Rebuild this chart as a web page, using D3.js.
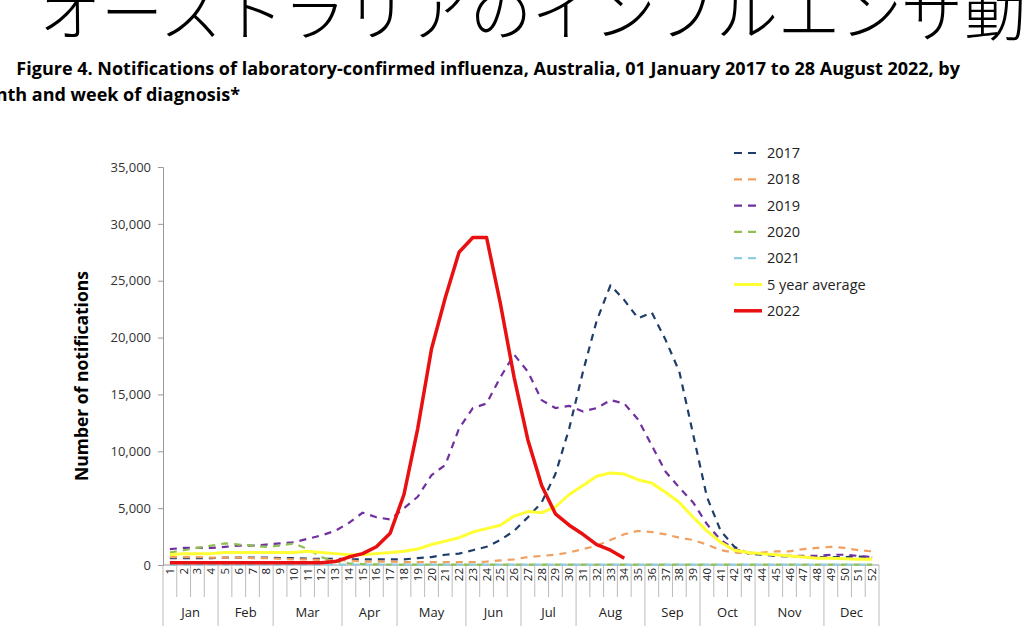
<!DOCTYPE html>
<html>
<head>
<meta charset="utf-8">
<script src="https://cdn.jsdelivr.net/npm/d3@7"></script>
<style>
  body { margin: 0; background: #fff; }
  svg { font-family: "Liberation Sans", "Open Sans", sans-serif; }
</style>
</head>
<body>
<svg id="chart" width="1024" height="635"></svg>
<script>
// Datos
var weeks = d3.range(1, 53);
var months = ["Jan", "Feb", "Mar", "Apr", "May", "Jun", "Jul", "Aug", "Sep", "Oct", "Nov", "Dec"];
var monthWeeks = [4, 4, 5, 4, 5, 4, 4, 5, 4, 4, 5, 4];
var yTicks = [0, 5000, 10000, 15000, 20000, 25000, 30000, 35000];

var s2017 = [600, 600, 600, 600, 650, 650, 650, 650, 600, 600, 550, 550, 550, 500, 500, 500, 500, 500, 600, 700, 900, 1000,
  1300, 1600, 2200, 3000, 4200, 5500, 8000, 12000, 17000, 21500, 24600, 23300, 21700, 22200, 19800, 17000, 11500, 6000,
  3000, 1600, 1000, 900, 800, 750, 700, 700, 700, 700, 750, 700];
var s2018 = [700, 700, 700, 650, 650, 650, 600, 600, 550, 500, 500, 450, 400, 400, 300, 300, 300, 250, 250, 250, 250, 250,
  250, 300, 400, 500, 700, 800, 900, 1100, 1400, 1700, 2200, 2700, 3000, 2900, 2700, 2400, 2200, 1800, 1300, 1100, 1000,
  1100, 1200, 1200, 1400, 1500, 1600, 1500, 1300, 1200];
var s2019 = [1400, 1500, 1500, 1500, 1600, 1700, 1700, 1800, 1900, 2000, 2300, 2600, 3000, 3700, 4600, 4200, 4000, 5000,
  6000, 7900, 8800, 12000, 13800, 14200, 16500, 18500, 17000, 14500, 13800, 14000, 13500, 13800, 14500, 14200, 12800,
  10500, 8200, 6800, 5500, 3600, 2200, 1400, 1100, 1000, 900, 800, 800, 800, 900, 900, 800, 700];
var s2020 = [1100, 1300, 1500, 1700, 1900, 1800, 1700, 1600, 1700, 1900, 1400, 700, 300, 150, 80, 50, 40, 30, 30, 30, 30,
  30, 30, 30, 30, 30, 30, 30, 30, 30, 30, 30, 30, 30, 30, 30, 30, 30, 30, 30, 30, 30, 30, 30, 30, 30, 30, 30, 30, 30, 30, 30];
var s2021 = [40, 40, 40, 40, 40, 40, 40, 40, 40, 40, 40, 40, 40, 40, 40, 40, 40, 40, 40, 40, 40, 40, 40, 40, 40, 40, 40,
  40, 40, 40, 40, 40, 40, 40, 40, 40, 40, 40, 40, 40, 40, 40, 40, 40, 40, 40, 40, 40, 40, 40, 40, 40];
var sAvg = [900, 1000, 1000, 1000, 1100, 1100, 1100, 1100, 1100, 1100, 1200, 1100, 1000, 900, 900, 1000, 1100, 1200, 1400,
  1800, 2100, 2400, 2900, 3200, 3500, 4300, 4700, 4600, 5100, 6200, 7000, 7800, 8100, 8000, 7500, 7200, 6400, 5500, 4200,
  3000, 2000, 1300, 1100, 1000, 900, 800, 700, 600, 600, 550, 500, 500];
var s2022 = [200, 200, 200, 200, 200, 200, 200, 200, 200, 200, 200, 200, 300, 700, 1000, 1600, 2800, 6200, 12000, 19000,
  23500, 27500, 28800, 28800, 23000, 16500, 11000, 7000, 4500, 3500, 2700, 1800, 1300, 600];

var series = [
  { name: "2017", values: s2017, color: "#1f3d6b", width: 2.2, dash: "7,6" },
  { name: "2018", values: s2018, color: "#f0a060", width: 2.2, dash: "7,6" },
  { name: "2019", values: s2019, color: "#7030a0", width: 2.2, dash: "7,6" },
  { name: "2020", values: s2020, color: "#8fc050", width: 2.2, dash: "7,6" },
  { name: "2021", values: s2021, color: "#90cce0", width: 2.2, dash: "7,6" },
  { name: "5 year average", values: sAvg, color: "#ffff33", width: 3, dash: null },
  { name: "2022", values: s2022, color: "#e81010", width: 3.5, dash: null }
];

var svg = d3.select("#chart");

// Titulos (recortados como en el original)
svg.append("text").attr("x", 1088).attr("y", 36).attr("text-anchor", "end")
  .attr("font-family", "Noto Sans CJK JP").attr("font-size", 62).attr("font-weight", 300)
  .attr("fill", "#000").text("オーストラリアのインフルエンザ動向");
svg.append("text").attr("x", 960).attr("y", 75).attr("text-anchor", "end")
  .attr("font-family", "Open Sans").attr("font-weight", "bold").attr("font-size", 18)
  .text("Figure 4. Notifications of laboratory-confirmed influenza, Australia, 01 January 2017 to 28 August 2022, by");
svg.append("text").attr("x", 240).attr("y", 101).attr("text-anchor", "end")
  .attr("font-family", "Open Sans").attr("font-weight", "bold").attr("font-size", 18)
  .text("Month and week of diagnosis*");

// Escalas
var x = d3.scaleBand().domain(weeks).range([163, 879]);
var y = d3.scaleLinear().domain([0, 35000]).range([565, 167]);

// Eje Y
var yAxis = d3.axisLeft(y).tickValues(yTicks).tickFormat(d3.format(",")).tickSize(5);
var gy = svg.append("g").attr("transform", "translate(163,0)").call(yAxis);
gy.select(".domain").attr("stroke", "#999");
gy.selectAll(".tick line").attr("stroke", "#999");
gy.selectAll(".tick text").attr("font-family", "Open Sans").attr("font-size", 13).attr("fill", "#333").attr("dx", -4);

svg.append("text").attr("transform", "translate(88,376) rotate(-90)")
  .attr("text-anchor", "middle").attr("font-family", "Open Sans").attr("font-weight", "bold")
  .attr("font-size", 17.5).text("Number of notifications");

// Eje X: semanas
svg.append("line").attr("x1", 163).attr("x2", 879).attr("y1", 565).attr("y2", 565).attr("stroke", "#999");
svg.selectAll(".wk-line").data(d3.range(0, 53)).enter().append("line")
  .attr("x1", function (d) { return 163 + d * x.bandwidth(); })
  .attr("x2", function (d) { return 163 + d * x.bandwidth(); })
  .attr("y1", 565).attr("y2", 597).attr("stroke", "#aaa").attr("stroke-width", 0.8);
svg.selectAll(".wk").data(weeks).enter().append("text")
  .attr("transform", function (d) { return "translate(" + (x(d) + x.bandwidth() / 2 + 4) + ",568) rotate(-90)"; })
  .attr("text-anchor", "end").attr("font-family", "Open Sans").attr("font-size", 11.5).attr("fill", "#222")
  .text(function (d) { return d; });

// Meses
var acc = 0, bounds = [0];
monthWeeks.forEach(function (n) { acc += n; bounds.push(acc); });
svg.selectAll(".m-line").data(bounds).enter().append("line")
  .attr("x1", function (d) { return 163 + d * x.bandwidth(); })
  .attr("x2", function (d) { return 163 + d * x.bandwidth(); })
  .attr("y1", 597).attr("y2", 626).attr("stroke", "#aaa").attr("stroke-width", 0.8);
svg.selectAll(".m").data(months).enter().append("text")
  .attr("x", function (d, i) { return 163 + (bounds[i] + bounds[i + 1]) / 2 * x.bandwidth(); })
  .attr("y", 617).attr("text-anchor", "middle").attr("font-family", "Open Sans").attr("font-size", 13).attr("fill", "#222")
  .text(function (d) { return d; });

// Lineas
var line = d3.line()
  .x(function (d, i) { return x(weeks[i]) + x.bandwidth() / 2; })
  .y(function (d) { return y(d); });

series.forEach(function (s) {
  svg.append("path").datum(s.values).attr("d", line)
    .attr("fill", "none").attr("stroke", s.color).attr("stroke-width", s.width)
    .attr("stroke-dasharray", s.dash).attr("stroke-linejoin", "round");
});

// Leyenda
var legend = svg.selectAll(".legend").data(series).enter().append("g")
  .attr("transform", function (d, i) { return "translate(734," + (153 + i * 26.3) + ")"; });
legend.append("line").attr("x1", 0).attr("x2", 28).attr("y1", 0).attr("y2", 0)
  .attr("stroke", function (d) { return d.color; })
  .attr("stroke-width", function (d) { return d.width; })
  .attr("stroke-dasharray", function (d) { return d.dash ? "8,6" : null; });
legend.append("text").attr("x", 33).attr("y", 5).attr("font-family", "Open Sans").attr("font-size", 14.5).attr("fill", "#222")
  .text(function (d) { return d.name; });
</script>
</body>
</html>
